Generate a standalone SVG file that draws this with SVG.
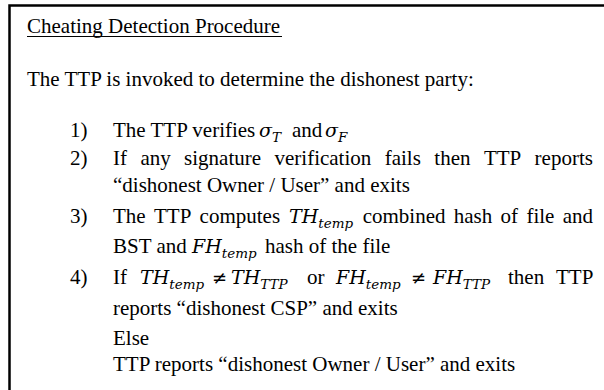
<svg xmlns="http://www.w3.org/2000/svg" width="604" height="390" viewBox="0 0 604 390">
<style>
.t{font-family:"Liberation Serif","Times New Roman",serif;font-size:21px;fill:#000}
.m{font-family:"DejaVu Serif",serif;font-style:italic;font-size:19px;fill:#000}
.s{font-family:"DejaVu Serif",serif;font-style:italic;font-size:13.5px;fill:#000}
.r{font-family:"DejaVu Serif",serif;font-size:18px;fill:#000}
</style>
<rect width="604" height="390" fill="#fff"/>
<g id="frame">
<path d="M9.5,392 V5.5 H606" fill="none" stroke="#000" stroke-width="2.5"/>
</g>
<g id="title">
<text class="t" x="27" y="33">Cheating Detection Procedure</text>
<line x1="27" y1="36.5" x2="282" y2="36.5" stroke="#000" stroke-width="1.2"/>
</g>
<g id="intro">
<text class="t" x="27" y="86">The TTP is invoked to determine the dishonest party:</text>
</g>
<g id="step1">
<text class="t" x="70" y="137">1)</text>
<text class="t" x="113" y="137">The TTP verifies</text>
<text x="259" y="137"><tspan class="m">σ</tspan><tspan class="s" dy="5">T</tspan></text>
<text class="t" x="292" y="137">and</text>
<text x="325" y="137"><tspan class="m">σ</tspan><tspan class="s" dy="5">F</tspan></text>
</g>
<g id="step2">
<text class="t" x="70" y="165">2)</text>
<text class="t" y="165"><tspan x="113">If</tspan><tspan x="140.4">any</tspan><tspan x="184.1">signature</tspan><tspan x="274.5">verification</tspan><tspan x="384.7">fails</tspan><tspan x="434.3">then</tspan><tspan x="483.9">TTP</tspan><tspan x="534.6">reports</tspan></text>
<text class="t" x="113" y="192">“dishonest Owner / User” and exits</text>
</g>
<g id="step3">
<text class="t" x="70" y="223">3)</text>
<text class="t" y="223"><tspan x="113">The</tspan><tspan x="154">TTP</tspan><tspan x="199.6">computes</tspan><tspan x="362.7">combined</tspan><tspan x="453.8">hash</tspan><tspan x="500.6">of</tspan><tspan x="526.4">file</tspan><tspan x="562.7">and</tspan></text>
<text x="289" y="223"><tspan class="m">TH</tspan><tspan class="s" dy="5">temp</tspan></text>
<text class="t" x="113" y="253">BST and</text>
<text x="192" y="253"><tspan class="m">FH</tspan><tspan class="s" dy="5">temp</tspan></text>
<text class="t" x="265" y="253">hash of the file</text>
</g>
<g id="step4">
<text class="t" x="70" y="284">4)</text>
<text class="t" x="113" y="284">If</text>
<text x="140" y="284"><tspan class="m">TH</tspan><tspan class="s" dy="5">temp</tspan></text>
<text class="r" x="212" y="284">≠</text>
<text x="231" y="284"><tspan class="m">TH</tspan><tspan class="s" dy="5">TTP</tspan></text>
<text class="t" x="307" y="284">or</text>
<text x="336" y="284"><tspan class="m">FH</tspan><tspan class="s" dy="5">temp</tspan></text>
<text class="r" x="411" y="284">≠</text>
<text x="433" y="284"><tspan class="m">FH</tspan><tspan class="s" dy="5">TTP</tspan></text>
<text class="t" x="508" y="284">then</text>
<text class="t" x="556" y="284">TTP</text>
<text class="t" x="113" y="315">reports “dishonest CSP” and exits</text>
<text class="t" x="113" y="345">Else</text>
<text class="t" x="113" y="371">TTP reports “dishonest Owner / User” and exits</text>
</g>
</svg>
